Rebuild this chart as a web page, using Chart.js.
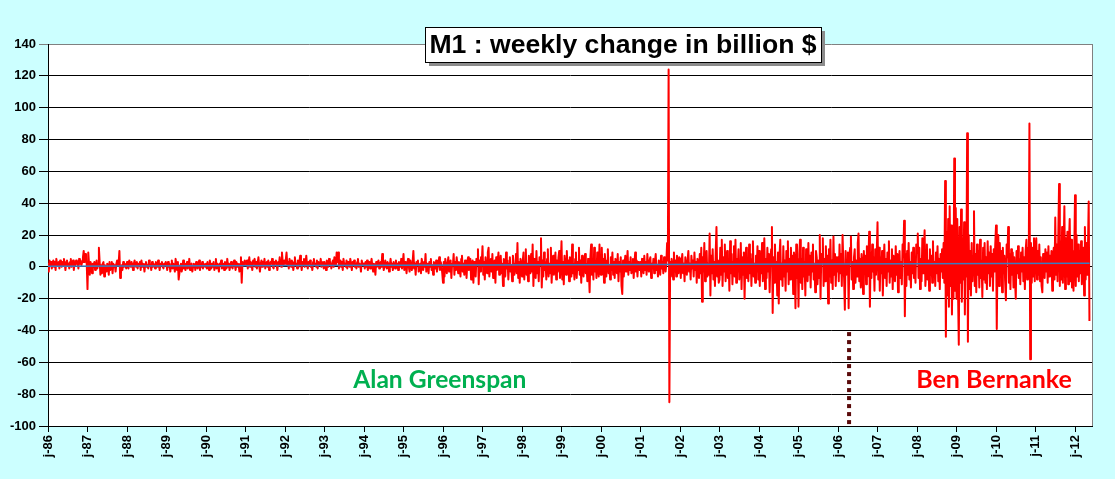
<!DOCTYPE html>
<html>
<head>
<meta charset="utf-8">
<script src="https://cdn.jsdelivr.net/npm/chart.js@4.4.1/dist/chart.umd.min.js"></script>
<style>
  html, body { margin: 0; padding: 0; background: #CCFFFF; }
  #wrap { width: 1115px; height: 479px; }
</style>
</head>
<body>
<div id="wrap"><canvas id="m1Chart" width="1115" height="479"></canvas></div>
<script>
// weekly change in M1, billion $ (one array per year, 52 weeks, 2012 partial)
const y1986 = [2,-3,4,1,3,-1,2,4,0,3,-2,5,1,2,3,-1,4,2,0,3,1,5,2,-2,3,4,1,2,-1,3,5,0,2,4,-2,3,1,4,2,3,-1,5,2,4,1,3,6,10,3,8,4,2];
const y1987 = [-14,9,2,-5,3,1,-4,2,0,3,-2,1,4,-1,2,12,3,-5,1,-4,2,3,-6,1,0,-3,2,1,-5,3,-2,1,3,-4,2,0,1,-3,2,4,1,2,10,-7,-4,1,-2,3,0,2,1,-1];
const y1988 = [3,1,-1,4,2,0,3,1,-2,2,4,1,0,3,-1,2,1,3,-2,4,0,2,1,-3,2,3,0,1,-1,4,2,1,-2,3,0,2,1,-1,3,2,0,4,1,-2,2,1,3,0,-1,2,1,3];
const y1989 = [1,-2,3,0,2,-3,1,4,-1,2,0,-3,5,1,-2,3,-8,-4,1,2,-3,0,4,-1,2,-2,1,3,-1,0,5,-2,1,2,-3,0,2,1,-2,3,0,-1,2,4,-2,1,0,3,-1,2,1,0];
const y1990 = [2,-1,3,0,-2,4,1,-1,2,0,3,-2,1,5,-1,2,0,-3,2,1,4,-1,0,2,-2,3,1,-1,5,0,2,-2,1,3,0,-1,2,4,1,-2,3,0,2,1,-3,2,6,-10,3,1,2,4];
const y1991 = [3,1,4,-1,2,6,0,3,1,-2,4,2,5,0,3,-1,2,6,1,-3,2,4,0,3,1,5,-1,2,3,0,4,-2,1,3,2,5,0,-1,3,2,4,1,-2,3,1,6,2,0,9,3,1,4];
const y1992 = [2,4,9,1,3,-1,5,2,0,4,1,-2,3,6,1,2,-1,4,0,3,7,2,-2,3,1,5,0,2,7,1,-1,3,2,4,0,1,-2,3,5,1,2,0,4,-1,3,2,1,5,0,2,3,-1];
const y1993 = [3,1,-2,4,2,0,5,1,3,-1,2,4,0,6,2,1,9,3,9,-1,2,4,0,3,-2,5,1,2,0,4,-1,3,2,0,5,1,-2,3,1,4,0,2,-1,3,5,0,2,1,-3,4,2,1];
const y1994 = [2,-1,3,0,4,-2,1,3,-1,2,5,0,-3,2,1,-5,3,0,2,4,-1,1,3,0,8,2,-2,1,4,0,-1,3,2,-3,1,5,0,2,-2,3,1,-1,4,0,2,-2,3,1,0,5,-1,2];
const y1995 = [8,-2,3,1,-4,2,5,0,-3,4,1,-2,3,10,-1,2,-5,3,1,4,-3,0,2,-4,5,1,-2,3,0,8,-3,2,1,-4,3,0,5,-2,1,-5,3,2,-1,4,-3,0,2,6,-2,3,1,-4];
const y1996 = [-10,3,-6,5,1,-4,2,6,-3,0,4,-7,2,1,8,-5,3,-2,6,1,-4,3,0,-6,5,7,-3,2,-5,4,1,-7,3,6,-2,0,5,-8,2,4,-10,3,1,-6,5,2,11,-11,4,-3,6,2];
const y1997 = [13,-5,3,-8,6,1,-4,9,12,-6,2,5,-3,8,-7,1,4,-10,6,-2,3,9,-5,0,7,-4,2,-12,5,3,-6,9,-1,4,-8,2,6,-3,1,-9,7,3,-5,2,8,-4,15,-7,3,-10,5,1];
const y1998 = [-6,4,9,-8,3,11,-5,2,-9,7,1,-4,8,-3,14,-12,5,2,-7,10,-4,3,-9,6,1,18,-13,4,-6,9,-2,3,-8,5,11,-6,2,-4,12,-10,3,7,-5,1,9,-8,4,-3,6,10,-7,2];
const y1999 = [16,-8,3,-11,7,2,-5,10,-3,4,-9,6,1,-6,14,-4,2,-8,5,9,-7,3,-2,12,-5,4,-10,7,1,-6,3,8,-4,2,-9,5,-2,-16,6,14,-5,2,-8,12,-3,4,-7,9,1,-6,14,-4];
const y2000 = [-5,12,-3,5,-10,8,2,-6,4,11,-4,1,-8,6,-2,9,-5,3,-7,5,1,-4,8,-9,3,-3,6,-12,-17,4,-6,2,7,-3,1,10,-5,3,-2,6,-4,1,5,-7,2,9,-3,4,-6,3,1,-2];
const y2001 = [3,-6,5,1,-4,7,-2,3,-5,8,0,-3,4,6,-7,2,-1,5,-4,3,8,-2,1,-6,4,2,-5,7,-1,3,-4,6,1,-3,2,15,4,124,-85,3,-6,5,1,-8,9,-3,4,-6,7,2,-4,6];
const y2002 = [5,-7,3,8,-4,2,-9,6,1,-5,4,10,-3,2,-8,7,-1,4,-6,9,-2,3,-10,5,1,-7,8,-4,12,-22,6,-3,15,-9,4,10,-6,2,-5,21,-18,7,-4,11,-8,3,-12,9,25,-6,4,-10];
const y2003 = [-8,12,-5,17,-12,6,-3,14,-9,2,10,-7,4,-15,16,-4,8,-11,3,13,-6,17,-10,5,-3,11,-8,2,15,-14,6,-5,9,-20,4,12,-7,3,-9,14,-4,8,-12,5,16,-6,2,-10,7,-3,13,-8];
const y2004 = [10,-12,6,-4,15,-9,3,18,-14,5,-7,12,-3,8,-16,4,11,25,-29,6,-10,14,-5,3,-18,9,-23,7,17,-8,2,-12,13,-6,4,-15,10,-3,16,-11,5,-8,12,-4,7,-17,9,3,-26,14,-7,5];
const y2005 = [-25,8,17,-10,5,-14,12,-6,3,-18,11,4,-9,15,-5,7,-13,9,-3,14,-8,2,-16,10,6,-11,4,-7,20,-20,8,3,18,-12,5,-9,13,-4,7,-23,11,-6,17,-10,4,-14,19,-5,8,-12,6,-3];
const y2006 = [6,-9,14,-4,8,-12,20,3,-7,-27,10,-5,4,9,-26,7,12,19,-8,3,-14,6,11,-10,4,-6,15,21,-9,5,-13,8,2,-17,10,-4,7,-11,13,-6,3,22,-25,9,-7,14,-3,6,-15,11,-5,8];
const y2007 = [28,-8,12,-15,6,-4,10,-18,3,14,-7,5,-12,9,-3,16,-10,4,-6,11,-14,7,2,-9,13,-5,8,-16,4,10,-7,3,-11,14,6,29,-31,8,-12,10,-5,15,-8,3,-13,9,-4,12,-7,5,-10,14];
const y2008 = [9,21,-7,12,-14,5,-9,18,-4,10,23,-12,-3,14,-8,4,-15,11,-5,7,-10,16,-6,3,-12,9,-4,13,-9,5,-14,8,-3,11,-7,15,-10,54,-44,22,-18,30,-25,38,-12,26,-30,15,-20,68,-15,37];
const y2009 = [-20,30,-15,-49,25,-10,36,-22,18,-8,28,-30,12,-6,84,-47,20,-14,10,-18,15,-9,7,35,-12,8,-16,14,-5,10,-13,17,-7,4,-19,12,-8,15,-10,6,-14,16,-4,9,-12,13,-6,8,-15,11,-3,14];
const y2010 = [26,-39,8,20,-12,15,-6,10,-16,12,-4,7,-9,-21,14,6,25,-10,8,-14,11,-5,9,-13,6,-8,-20,10,-4,13,-7,5,-11,9,-3,12,-9,6,-14,10,17,-8,12,-5,90,-58,15,-10,12,-6,18,-9];
const y2011 = [12,18,-8,10,-5,14,-9,6,-12,-16,8,4,-7,11,-3,9,-10,13,-6,7,-4,10,-15,5,12,-8,31,-5,14,-9,20,52,-12,16,-8,25,-10,12,38,-14,18,-6,22,-11,15,30,-9,17,-13,10,-15,8];
const y2012 = [45,-12,20,-6,14,-9,10,-4,16,-11,8,12,-18,25,-8,15,-5,10,41,-34];

const weeklyByYear = [y1986, y1987, y1988, y1989, y1990, y1991, y1992, y1993, y1994,
  y1995, y1996, y1997, y1998, y1999, y2000, y2001, y2002, y2003, y2004, y2005,
  y2006, y2007, y2008, y2009, y2010, y2011, y2012];
const firstYear = 1986;

// linear trend (start / end)
const trendX = [1986, 2012.37];
const trendY = [0.3, 2.2];

// Bernanke takes over
const handoverX = 2006.28;
const handoverY = [-41, -101];

// y axis range
const yMin = -100, yMax = 140, yStep = 20;
const xMax = 2012.43;

const titleText = 'M1 : weekly change in billion $';
const chairNames = ['Alan Greenspan', 'Ben Bernanke'];
const chairX = [1995.92, 2009.95];
const chairY = -76;

const m1Points = [];
weeklyByYear.forEach((vals, i) => {
  vals.forEach((v, k) => m1Points.push({ x: firstYear + i + k / 52, y: v }));
});

const bgPlugin = {
  id: 'bg',
  beforeDraw(chart) {
    const { ctx, chartArea: a } = chart;
    ctx.save();
    ctx.fillStyle = '#CCFFFF';
    ctx.fillRect(0, 0, chart.width, chart.height);
    ctx.fillStyle = '#FFFFFF';
    ctx.fillRect(a.left, a.top, a.right - a.left, a.bottom - a.top);
    ctx.restore();
  },
  afterDraw(chart) {
    const { ctx, chartArea: a, scales } = chart;
    ctx.save();
    // right border
    ctx.strokeStyle = '#808080';
    ctx.lineWidth = 1;
    ctx.beginPath();
    ctx.moveTo(Math.round(a.right) + 0.5, a.top);
    ctx.lineTo(Math.round(a.right) + 0.5, a.bottom);
    ctx.stroke();

    // names
    const colors = ['#00B050', '#FF0000'];
    const widths = [173, 156];
    chairNames.forEach((name, i) => {
      ctx.font = 'bold 20px Lato';
      const w = ctx.measureText(name).width;
      const size = 20 * widths[i] / w;
      ctx.font = 'bold ' + size.toFixed(1) + 'px Lato';
      ctx.fillStyle = colors[i];
      ctx.textAlign = 'center';
      ctx.textBaseline = 'alphabetic';
      ctx.fillText(name, scales.x.getPixelForValue(chairX[i]), scales.y.getPixelForValue(chairY));
    });

    // title box
    const bx = 425, by = 27, bw = 396, bh = 35;
    ctx.fillStyle = '#8c8c8c';
    ctx.fillRect(bx + 4, by + 4, bw, bh);
    ctx.fillStyle = '#FFFFFF';
    ctx.fillRect(bx, by, bw, bh);
    ctx.strokeStyle = '#000';
    ctx.lineWidth = 1;
    ctx.strokeRect(bx + 0.5, by + 0.5, bw, bh);
    ctx.font = 'bold 26px "Liberation Sans", Arial';
    const tw = ctx.measureText(titleText).width;
    const ts = 26 * 387 / tw;
    ctx.font = 'bold ' + ts.toFixed(1) + 'px "Liberation Sans", Arial';
    ctx.fillStyle = '#000';
    ctx.textAlign = 'center';
    ctx.textBaseline = 'alphabetic';
    ctx.fillText(titleText, bx + bw / 2, by + 26);
    ctx.restore();
  }
};

const tickFont = { family: '"Liberation Sans", Arial', size: 13, weight: 'bold' };

new Chart(document.getElementById('m1Chart').getContext('2d'), {
  type: 'line',
  data: {
    datasets: [
      {
        label: 'trend',
        data: trendX.map((x, i) => ({ x: x, y: trendY[i] })),
        borderColor: '#3A7CC2',
        borderWidth: 1.5,
        pointRadius: 0,
        order: 0
      },
      {
        label: 'M1 weekly change',
        data: m1Points,
        borderColor: '#FF0000',
        borderWidth: 2,
        borderJoinStyle: 'round',
        pointRadius: 0,
        tension: 0,
        order: 1
      },
      {
        label: 'Bernanke',
        data: handoverY.map(y => ({ x: handoverX, y: y })),
        borderColor: '#5A0A0A',
        borderWidth: 4,
        borderDash: [4, 4],
        borderCapStyle: 'butt',
        pointRadius: 0,
        clip: false,
        order: 2
      }
    ]
  },
  options: {
    responsive: false,
    animation: false,
    events: [],
    layout: { padding: { top: 44, right: 23, left: 0, bottom: 0 } },
    plugins: { legend: { display: false }, tooltip: { enabled: false }, title: { display: false } },
    scales: {
      x: {
        type: 'linear',
        min: firstYear,
        max: xMax,
        afterFit(scale) { scale.height = 53; },
        ticks: {
          stepSize: 1,
          includeBounds: false,
          autoSkip: false,
          maxRotation: 90,
          minRotation: 90,
          padding: 3,
          color: '#000',
          font: tickFont,
          callback: v => 'j-' + String(v).slice(2)
        },
        grid: { drawOnChartArea: false, tickLength: 6, color: '#000' },
        border: { color: '#000', width: 1 }
      },
      y: {
        min: yMin,
        max: yMax,
        afterFit(scale) { scale.width = 48; },
        ticks: { stepSize: yStep, padding: 3, color: '#000', font: tickFont },
        grid: {
          tickLength: 9,
          color: c => (c.tick && c.tick.value === yMax ? '#808080' : '#000'),
          lineWidth: 1
        },
        border: { color: '#000', width: 1 }
      }
    }
  },
  plugins: [bgPlugin]
});
</script>
</body>
</html>
